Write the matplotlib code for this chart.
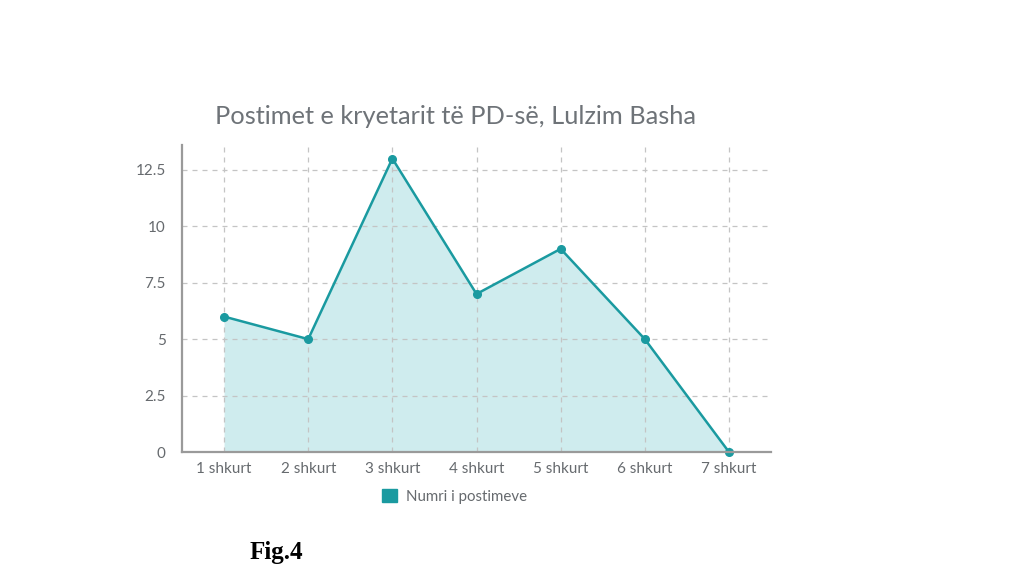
import matplotlib
matplotlib.use("Agg")
import matplotlib.pyplot as plt
from matplotlib.patches import Patch

categories = ["1 shkurt", "2 shkurt", "3 shkurt", "4 shkurt", "5 shkurt", "6 shkurt", "7 shkurt"]
values = [6, 5, 13, 7, 9, 5, 0]
yticks = [0, 2.5, 5, 7.5, 10, 12.5]
ytick_labels = ["0", "2.5", "5", "7.5", "10", "12.5"]

line_c = "#1a9aa0"
fill_c = "#cfecee"
grid_c = "#c4c4c4"
text_c = "#666a6e"

fig = plt.figure(figsize=(10.34, 5.75), dpi=100)
ax = fig.add_axes([0.176, 0.2139, 0.5697, 0.5339])
x = list(range(1, len(categories) + 1))
ax.fill_between(x, values, 0, color=fill_c, zorder=1, linewidth=0)
ax.plot(x, values, color=line_c, linewidth=1.8, marker="o", markersize=5.5, zorder=3, clip_on=False)

ax.set_xlim(0.5, 7.5)
ax.set_ylim(0, 13.6)
ax.set_xticks(x)
ax.set_xticklabels(categories, family="Lato", fontsize=11, color=text_c)
ax.set_yticks(yticks)
ax.set_yticklabels(ytick_labels, family="Lato", fontsize=11, color=text_c)
ax.tick_params(axis="x", length=0, pad=7)
ax.tick_params(axis="y", length=0, pad=11.7)

ax.grid(True, linestyle=(0, (4, 4)), color=grid_c, linewidth=0.9, zorder=2)
ax.set_axisbelow(False)
for s in ["top", "right"]:
    ax.spines[s].set_visible(False)
for s in ["left", "bottom"]:
    ax.spines[s].set_color("#9a9a9a")
    ax.spines[s].set_linewidth(1.6)
    ax.spines[s].set_zorder(4)

fig.text(0.4406, 0.797, "Postimet e kryetarit të PD-së, Lulzim Basha", family="Lato",
         fontsize=18.3, color="#6e7378", ha="center", va="center")

leg = fig.legend(handles=[Patch(facecolor=line_c, edgecolor=line_c)], labels=["Numri i postimeve"],
                 loc="center", bbox_to_anchor=(0.44, 0.137), frameon=False,
                 prop={"family": "Lato", "size": 10.8}, handlelength=1.0, handleheight=1.0, handletextpad=0.6)
for t in leg.get_texts():
    t.set_color(text_c)

fig.text(0.2418, 0.04, "Fig.4", family="Liberation Serif", fontweight="bold", fontsize=18,
         color="black", ha="left", va="center")

fig.savefig("out.png", dpi=100, facecolor="white")
